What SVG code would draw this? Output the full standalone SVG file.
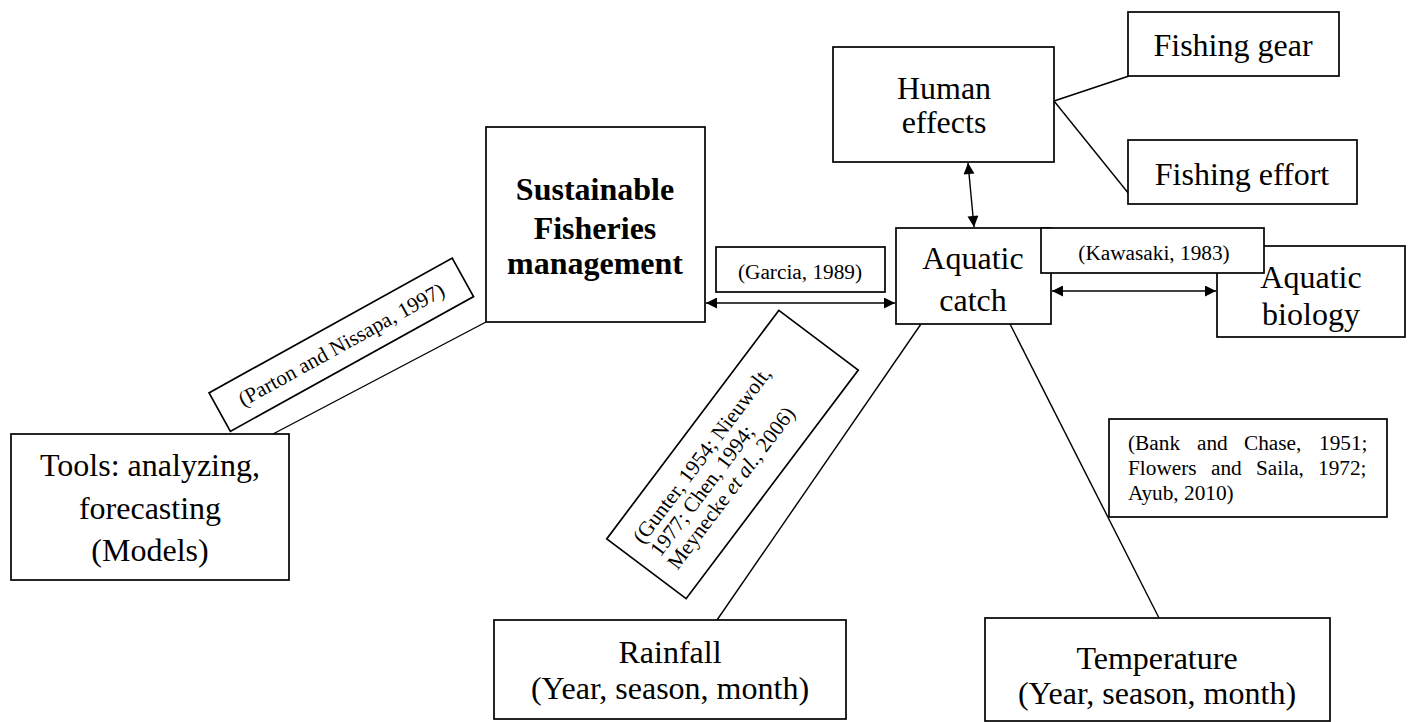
<svg xmlns="http://www.w3.org/2000/svg" width="1412" height="722" viewBox="0 0 1412 722">
<defs>
<style>
.box{fill:#fff;stroke:#000;stroke-width:1.7}
.ln{stroke:#000;stroke-width:1.4;fill:none}
.t{font-family:"Liberation Serif","Times New Roman",serif;font-size:32px;fill:#000;text-anchor:middle}
.b{font-weight:bold}
.s{font-family:"Liberation Serif","Times New Roman",serif;font-size:21.3px;fill:#000}
.c{text-anchor:middle}
</style>
<marker id="ah" viewBox="0 0 10 10" refX="10" refY="5" markerWidth="15" markerHeight="11" markerUnits="userSpaceOnUse" orient="auto-start-reverse"><path d="M0,0 L10,5 L0,10 z" fill="#000"/></marker>
</defs>
<rect width="1412" height="722" fill="#fff"/>
<g id="connectors">
<line class="ln" x1="486" y1="322" x2="273" y2="434"/>
<line class="ln" x1="1054" y1="101" x2="1129" y2="76"/>
<line class="ln" x1="1054" y1="101" x2="1129" y2="194"/>
<line class="ln" x1="921" y1="324" x2="717" y2="620"/>
<line class="ln" x1="1010" y1="324" x2="1159" y2="618"/>
<line class="ln" x1="706" y1="303" x2="895" y2="303" marker-start="url(#ah)" marker-end="url(#ah)"/>
<line class="ln" x1="1052" y1="291" x2="1216" y2="291" marker-start="url(#ah)" marker-end="url(#ah)"/>
<line class="ln" x1="968" y1="163" x2="974" y2="227" marker-start="url(#ah)" marker-end="url(#ah)"/>
</g>
<g id="sustainable">
<rect class="box" x="486" y="127" width="219" height="195"/>
<text class="t b" x="595" y="200">Sustainable</text>
<text class="t b" x="595" y="239">Fisheries</text>
<text class="t b" x="595" y="274">management</text>
</g>
<g id="tools">
<rect class="box" x="11" y="434" width="278" height="146"/>
<text class="t" x="150" y="476">Tools: analyzing,</text>
<text class="t" x="150" y="519">forecasting</text>
<text class="t" x="150" y="561">(Models)</text>
</g>
<g id="parton">
<g transform="translate(341.3,344.7) rotate(-29)">
<rect class="box" x="-139" y="-22" width="278" height="44"/>
<text class="s c" x="0" y="7">(Parton and Nissapa, 1997)</text>
</g>
</g>
<g id="human">
<rect class="box" x="833" y="47" width="221" height="115"/>
<text class="t" x="944" y="99">Human</text>
<text class="t" x="944" y="133">effects</text>
</g>
<g id="gear">
<rect class="box" x="1128" y="12" width="211" height="64"/>
<text class="t" x="1233" y="56">Fishing gear</text>
</g>
<g id="effort">
<rect class="box" x="1128" y="140" width="229" height="64"/>
<text class="t" x="1242" y="185">Fishing effort</text>
</g>
<g id="catch">
<rect class="box" x="896" y="228" width="155" height="96"/>
<text class="t" x="973" y="269">Aquatic</text>
<text class="t" x="973" y="311">catch</text>
</g>
<g id="biology">
<rect class="box" x="1217" y="246" width="188" height="91"/>
<text class="t" x="1311" y="288">Aquatic</text>
<text class="t" x="1311" y="325">biology</text>
</g>
<g id="kawasaki">
<rect class="box" x="1041" y="228" width="223" height="45"/>
<text class="s c" x="1154" y="260">(Kawasaki, 1983)</text>
</g>
<g id="garcia">
<rect class="box" x="716" y="247" width="169" height="45"/>
<text class="s c" x="800" y="279">(Garcia, 1989)</text>
</g>
<g id="gunter">
<g transform="translate(732.5,454.5) rotate(-53)">
<rect class="box" x="-143" y="-49.7" width="286" height="99.4"/>
<text class="s" x="-126" y="-17">(Gunter, 1954; Nieuwolt,</text>
<text class="s" x="-126" y="4.5">1977; Chen, 1994;</text>
<text class="s" x="-126" y="26">Meynecke <tspan font-style="italic">et al.</tspan>, 2006)</text>
</g>
</g>
<g id="bank">
<rect class="box" x="1109" y="419" width="278" height="98"/>
<text class="s"><tspan x="1128" y="450">(Bank</tspan><tspan x="1197" y="450">and</tspan><tspan x="1244" y="450">Chase,</tspan><tspan x="1319" y="450">1951;</tspan></text>
<text class="s"><tspan x="1128" y="475">Flowers</tspan><tspan x="1211" y="475">and</tspan><tspan x="1256" y="475">Saila,</tspan><tspan x="1318" y="475">1972;</tspan></text>
<text class="s" x="1128" y="500">Ayub, 2010)</text>
</g>
<g id="rainfall">
<rect class="box" x="494" y="620" width="352" height="99"/>
<text class="t" x="670" y="663">Rainfall</text>
<text class="t" x="670" y="699">(Year, season, month)</text>
</g>
<g id="temperature">
<rect class="box" x="985" y="618" width="345" height="103"/>
<text class="t" x="1157" y="669">Temperature</text>
<text class="t" x="1157" y="704">(Year, season, month)</text>
</g>
</svg>
